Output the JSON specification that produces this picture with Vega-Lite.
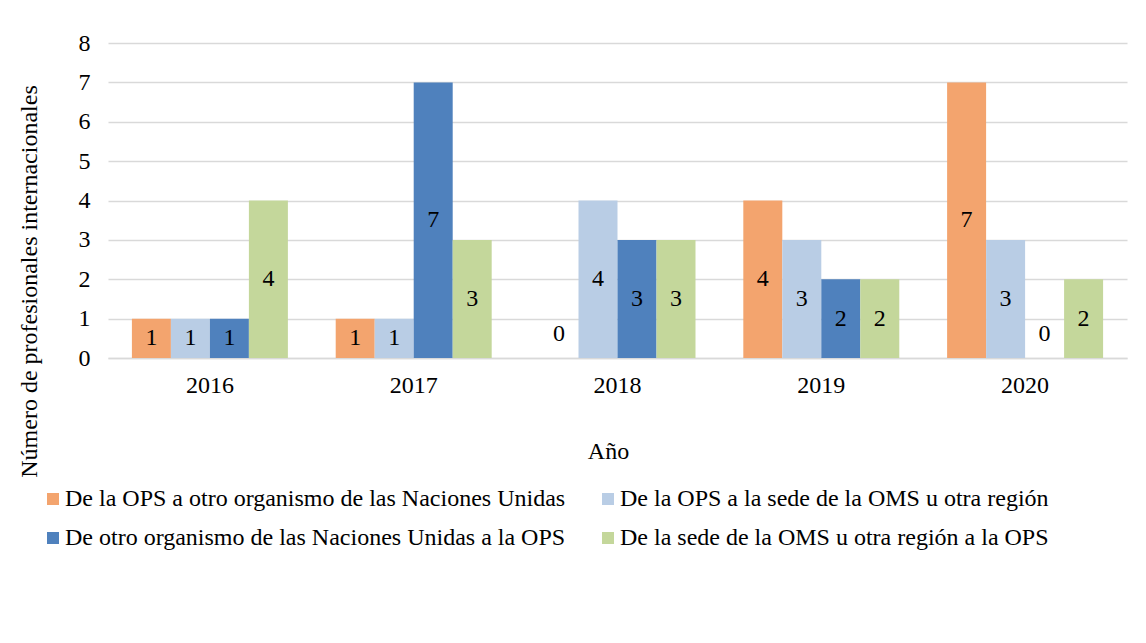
{
  "$schema": "https://vega.github.io/schema/vega-lite/v6.json",
  "width": 1019,
  "height": 315,
  "autosize": {"type": "none"},
  "padding": {"left": 108, "top": 43, "right": 19, "bottom": 285},
  "background": "white",
  "config": {
    "font": "Liberation Serif",
    "view": {"stroke": null},
    "text": {"font": "Liberation Serif"},
    "axis": {"labelFont": "Liberation Serif", "titleFont": "Liberation Serif", "labelFontSize": 24, "titleFontSize": 24, "labelColor": "#000000", "titleColor": "#000000", "titleFontWeight": "normal"},
    "legend": {"labelFont": "Liberation Serif", "labelFontSize": 24, "labelColor": "#000000", "labelLimit": 0}
  },
  "data": {
    "values": [
      {"year": "2016", "serie": "De la OPS a otro organismo de las Naciones Unidas", "value": 1},
      {"year": "2016", "serie": "De la OPS a la sede de la OMS u otra región", "value": 1},
      {"year": "2016", "serie": "De otro organismo de las Naciones Unidas a la OPS", "value": 1},
      {"year": "2016", "serie": "De la sede de la OMS u otra región a la OPS", "value": 4},
      {"year": "2017", "serie": "De la OPS a otro organismo de las Naciones Unidas", "value": 1},
      {"year": "2017", "serie": "De la OPS a la sede de la OMS u otra región", "value": 1},
      {"year": "2017", "serie": "De otro organismo de las Naciones Unidas a la OPS", "value": 7},
      {"year": "2017", "serie": "De la sede de la OMS u otra región a la OPS", "value": 3},
      {"year": "2018", "serie": "De la OPS a otro organismo de las Naciones Unidas", "value": 0},
      {"year": "2018", "serie": "De la OPS a la sede de la OMS u otra región", "value": 4},
      {"year": "2018", "serie": "De otro organismo de las Naciones Unidas a la OPS", "value": 3},
      {"year": "2018", "serie": "De la sede de la OMS u otra región a la OPS", "value": 3},
      {"year": "2019", "serie": "De la OPS a otro organismo de las Naciones Unidas", "value": 4},
      {"year": "2019", "serie": "De la OPS a la sede de la OMS u otra región", "value": 3},
      {"year": "2019", "serie": "De otro organismo de las Naciones Unidas a la OPS", "value": 2},
      {"year": "2019", "serie": "De la sede de la OMS u otra región a la OPS", "value": 2},
      {"year": "2020", "serie": "De la OPS a otro organismo de las Naciones Unidas", "value": 7},
      {"year": "2020", "serie": "De la OPS a la sede de la OMS u otra región", "value": 3},
      {"year": "2020", "serie": "De otro organismo de las Naciones Unidas a la OPS", "value": 0},
      {"year": "2020", "serie": "De la sede de la OMS u otra región a la OPS", "value": 2}
    ]
  },
  "encoding": {
    "x": {
      "field": "year", "type": "nominal",
      "scale": {"paddingInner": 0.2346, "paddingOuter": 0.1173},
      "axis": {"title": "Año", "labelAngle": 0, "ticks": false, "domain": true, "domainColor": "#D9D9D9", "domainWidth": 1.5, "labelPadding": 15, "titleY": 81, "titleX": 500, "titlePadding": 0}
    },
    "xOffset": {"field": "serie", "type": "nominal", "sort": null, "scale": {"paddingInner": 0, "paddingOuter": 0}}
  },
  "layer": [
    {
      "mark": {"type": "bar"},
      "encoding": {
        "y": {
          "field": "value", "type": "quantitative",
          "scale": {"domain": [0, 8]},
          "axis": {"title": "Número de profesionales internacionales", "values": [0,1,2,3,4,5,6,7,8], "labelOverlap": false, "ticks": false, "domain": false, "grid": true, "gridColor": "#D9D9D9", "gridWidth": 1.5, "labelPadding": 18, "titleX": -79, "titleY": 238, "titleAngle": -90, "titleBaseline": "middle", "titleAnchor": "middle"}
        },
        "color": {
          "field": "serie", "type": "nominal", "sort": null,
          "scale": {
            "domain": ["De la OPS a otro organismo de las Naciones Unidas", "De la OPS a la sede de la OMS u otra región", "De otro organismo de las Naciones Unidas a la OPS", "De la sede de la OMS u otra región a la OPS"],
            "range": ["#F3A46E", "#B9CDE5", "#4F81BD", "#C4D79B"]
          },
          "legend": {"title": null, "orient": "none", "legendX": -67, "legendY": 444, "columns": 2, "columnPadding": 30, "rowPadding": 15, "labelLimit": 0, "symbolType": "square", "symbolSize": 144, "symbolStrokeWidth": 0, "labelOffset": 0, "direction": "horizontal"}
        }
      }
    },
    {
      "transform": [{"calculate": "datum.value == 0 ? 0.62 : datum.value / 2", "as": "mid"}],
      "mark": {"type": "text", "fontSize": 24, "baseline": "middle", "align": "center", "color": "#000000", "font": "Liberation Serif"},
      "encoding": {
        "y": {
          "field": "mid", "type": "quantitative",
          "axis": {"title": "Número de profesionales internacionales", "values": [0,1,2,3,4,5,6,7,8], "labelOverlap": false, "ticks": false, "domain": false, "grid": true, "gridColor": "#D9D9D9", "gridWidth": 1.5, "labelPadding": 18, "titleX": -79, "titleY": 238, "titleAngle": -90, "titleBaseline": "middle", "titleAnchor": "middle"}
        },
        "text": {"field": "value", "type": "quantitative"}
      }
    }
  ]
}
